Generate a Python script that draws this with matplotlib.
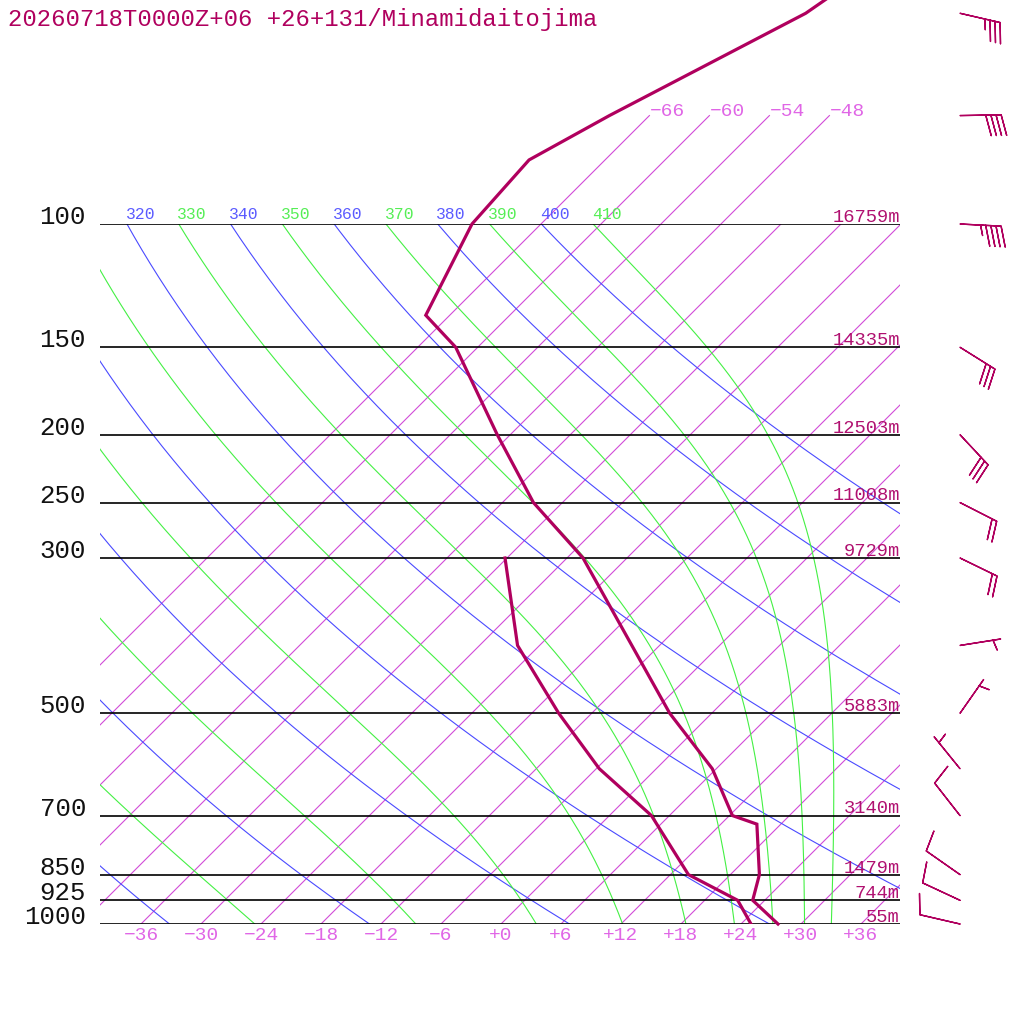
import numpy as np
import matplotlib
matplotlib.use('Agg')
import matplotlib.pyplot as plt
from matplotlib.transforms import Bbox, TransformedBbox

plt.rcParams['font.family'] = ['Liberation Mono', 'DejaVu Sans Mono']

# sounding (temperature / dewpoint), hPa and degC
temp_p = [1000, 925, 850, 720, 700, 600, 500, 300, 250, 200, 150, 135, 100, 81, 70, 50, 30]
temp_t = [27.7, 22.8, 20.9, 15.6, 12.3, 5.6, -4.2, -28.4, -38.9, -49.3, -62.2, -68.4, -72.9, -73.6, -70.0, -60.6, -53.7]
dew_p = [1000, 925, 850, 700, 600, 500, 400, 300]
dew_t = [25.0, 21.3, 13.8, 4.2, -5.7, -15.3, -26.2, -36.2]

# winds: direction (deg, from) and speed (kt)
wind_p = [50, 70, 100, 150, 200, 250, 300, 400, 500, 600, 700, 850, 925, 1000]
wind_dir = [103, 89, 93, 122, 137, 117, 116, 81, 35, 321, 322, 305, 295, 283]
wind_spd = [35, 40, 45, 30, 30, 20, 20, 5, 5, 5, 10, 10, 10, 10]

# mandatory levels and heights
std_p = [100, 150, 200, 250, 300, 500, 700, 850, 925, 1000]
std_h = ['16759m', '14335m', '12503m', '11008m', '9729m', '5883m', '3140m', '1479m', '744m', '55m']

isotherms = list(range(-66, 37, 6))
bottom_labels = list(range(-36, 37, 6))
top_isotherms = [-66, -60, -54, -48]
dry_theta = list(range(240, 401, 20))
moist_theta = list(range(250, 411, 20))

title = '20260718T0000Z+06 +26+131/Minamidaitojima'

RED = '#b0005e'
ISO = '#d24cd8'
ISO_TXT = '#e066e6'
BLUE = '#4a4aff'
GREEN = '#44f044'

KAPPA = 0.2857
SKEW = 30.4


def skx(t, p):
    return np.asarray(t) + SKEW * np.log(1000.0 / np.asarray(p))


def moist_curve(theta, p):
    # pseudo-adiabat, integrated down from 100 hPa
    rd, cp, lv, eps = 287.04, 1005.7, 2.501e6, 0.622

    def f(lnp, t):
        pp = np.exp(lnp)
        es = 6.112 * np.exp(17.67 * (t - 273.15) / (t - 29.65))
        rs = eps * es / (pp - es)
        return (rd * t + lv * rs) / (cp + lv * lv * rs * eps / (rd * t * t))

    lnp = np.log(p)
    t = theta * 0.1 ** KAPPA
    out = [t]
    for i in range(len(lnp) - 1):
        h = lnp[i + 1] - lnp[i]
        k1 = f(lnp[i], t)
        k2 = f(lnp[i] + h / 2, t + h * k1 / 2)
        k3 = f(lnp[i] + h / 2, t + h * k2 / 2)
        k4 = f(lnp[i] + h, t + h * k3)
        t = t + h * (k1 + 2 * k2 + 2 * k3 + k4) / 6
        out.append(t)
    return np.array(out) - 273.15


fig = plt.figure(figsize=(10.24, 10.24), dpi=100)
ax = fig.add_axes([100 / 1024, 100 / 1024, 800 / 1024, 700 / 1024])
ax.set_yscale('log')
ax.set_xlim(-40.1, 39.9)
ax.set_ylim(1000, 100)
ax.set_axis_off()

pp = np.geomspace(1000, 100, 300)

# isotherms
for t in isotherms:
    ax.plot(skx(t, pp), pp, color=ISO, lw=0.8, zorder=1)
for t in bottom_labels:
    lab = ('+%d' % t if t >= 0 else '\u2212%d' % -t)
    ax.text(t, -12 / 700, lab, transform=ax.get_xaxis_transform(),
            ha='center', va='center', fontsize=14, color=ISO_TXT)
ptop = np.array([100, 70])
for t in top_isotherms:
    xs = skx(t, ptop)
    ax.plot(xs, ptop, color=ISO, lw=0.8, zorder=1, clip_on=False)
    ax.text(xs[-1], 70, '\u2212%d' % -t, ha='left', va='baseline',
            fontsize=14, color=ISO_TXT)

clip = TransformedBbox(Bbox([[0, 0], [1, 2]]), ax.transAxes)

# dry adiabats
for th in dry_theta:
    tt = th * (pp / 1000.0) ** KAPPA - 273.15
    ax.plot(skx(tt, pp), pp, color=BLUE, lw=0.8, zorder=1)
    lab = ax.annotate(str(th), (skx(tt[-1], 100), 100), xytext=(-1, 3.5),
                      textcoords='offset points', ha='left', va='baseline',
                      fontsize=11.8, color='#5a5aff')
    lab.set_clip_path(None)
    lab.set_clip_box(clip)
    lab.set_clip_on(True)

# moist adiabats
pm = np.geomspace(100, 1000, 400)
for th in moist_theta:
    tt = moist_curve(th, pm)
    ax.plot(skx(tt, pm), pm, color=GREEN, lw=0.8, zorder=1)
    lab = ax.annotate(str(th), (skx(tt[0], 100), 100), xytext=(-1, 3.5),
                      textcoords='offset points', ha='left', va='baseline',
                      fontsize=11.8, color='#55ee55')
    lab.set_clip_path(None)
    lab.set_clip_box(clip)
    lab.set_clip_on(True)

# pressure lines and labels
for p, h in zip(std_p, std_h):
    ax.axhline(p, color='black', lw=1.2, zorder=2)
    ax.text(-14 / 800, p, str(p), transform=ax.get_yaxis_transform(),
            ha='right', va='baseline', fontsize=18.5, color='#111111')
    ax.annotate(h, (1.0, p), xycoords=ax.get_yaxis_transform(), xytext=(0, 1.5),
                textcoords='offset points', ha='right', va='baseline',
                fontsize=13.5, color='#b01070')

# profiles
ax.plot(skx(temp_t, temp_p), temp_p, color=RED, lw=2.3, zorder=4,
        clip_on=False, solid_joinstyle='miter')
ax.plot(skx(dew_t, dew_p), dew_p, color=RED, lw=2.3, zorder=4,
        solid_joinstyle='miter')

# wind barbs
d = np.deg2rad(wind_dir)
u = -np.array(wind_spd) * np.sin(d)
v = -np.array(wind_spd) * np.cos(d)
ax.barbs(np.full(len(wind_p), 45.9), wind_p, u, v, length=7.7, pivot='tip',
         color=RED, linewidth=1.0, sizes=dict(height=0.5), clip_on=False)
ax.set_xlim(-40.1, 39.9)
ax.set_ylim(1000, 100)

fig.text(8 / 1024, 1 - 26 / 1024, title, ha='left', va='baseline',
         fontsize=17.2, color=RED)

fig.savefig('out.png', dpi=100)
